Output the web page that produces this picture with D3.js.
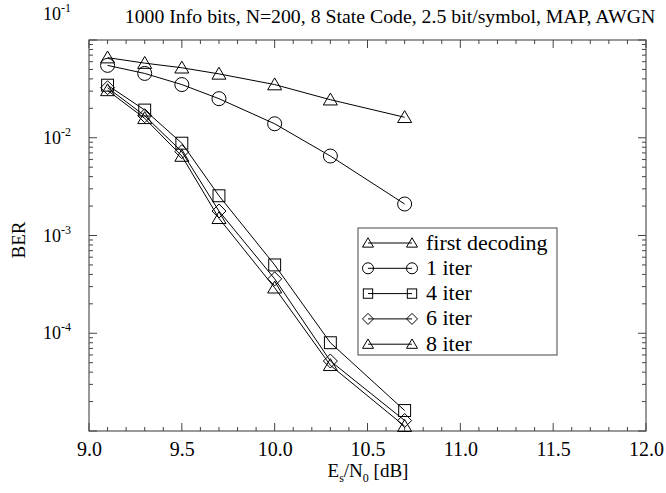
<!DOCTYPE html>
<html>
<head>
<meta charset="utf-8">
<script src="https://cdn.jsdelivr.net/npm/d3@7"></script>
<style>
	body { margin: 0; background: #fff; }
	svg text { font-family: "Liberation Serif", "DejaVu Serif", serif; fill: #000; }
</style>
</head>
<body>
<div class="ber-chart"></div>
<script>
var snr = [9.1, 9.3, 9.5, 9.7, 10.0, 10.3, 10.7];

var firstDecoding = [0.066, 0.058, 0.052, 0.045, 0.035, 0.0245, 0.0162];
var iter1 = [0.055, 0.0455, 0.035, 0.0251, 0.0139, 0.0065, 0.0021];
var iter4 = [0.0345, 0.0192, 0.0088, 0.00255, 0.0005, 0.00008, 0.0000162];
var iter6 = [0.0325, 0.0168, 0.0072, 0.00178, 0.00036, 0.000052, 0.0000128];
var iter8 = [0.0305, 0.0158, 0.0065, 0.0015, 0.000292, 0.000047, 0.0000112];

var seriesNames = ["first decoding", "1 iter", "4 iter", "6 iter", "8 iter"];
var seriesShapes = ["triangle", "circle", "square", "diamond", "triangle"];

var xTicks = [9.0, 9.5, 10.0, 10.5, 11.0, 11.5, 12.0];
var yTicks = [1e-1, 1e-2, 1e-3, 1e-4];

var title = "1000 Info bits, N=200, 8 State Code, 2.5 bit/symbol, MAP, AWGN";

function drawChart() {
	var sel = d3.select(".ber-chart").html("");
	var width = 666;
	var height = 493;

	var svg = sel.append("svg")
		.attr("width", width)
		.attr("height", height)

	var margin = {top: 40, right: 20, bottom: 62, left: 89};

	width -= margin.left + margin.right;
	height -= margin.top + margin.bottom;

	var x = d3.scaleLinear().domain([9, 12]).range([0, width]);
	var y = d3.scaleLog().domain([1e-5, 1e-1]).range([height, 0]);

	var g = svg.append("g").attr("transform", "translate(" + margin.left + "," + margin.top + ")");

	// frame
	g.append("rect")
		.attr("width", width)
		.attr("height", height)
		.style("fill", "none")
		.style("stroke", "#555")
		.style("stroke-width", 1.2)

	// x ticks, minor every 0.1, inward on top and bottom
	var xMinor = d3.range(90, 121).map(d => d / 10);
	[[height, -1], [0, 1]].forEach(function(side){
		g.append("g").selectAll("line").data(xMinor).enter().append("line")
			.attr("x1", d => x(d)).attr("x2", d => x(d))
			.attr("y1", side[0])
			.attr("y2", d => side[0] + side[1] * (Math.abs(d * 2 - Math.round(d * 2)) < 1e-6 ? 8 : 4))
			.style("stroke", "#444")
			.style("stroke-width", 1)
	})

	// y ticks, log minors, inward on left and right
	var yMinor = [];
	for (var e = -5; e < -1; e++) {
		for (var m = 1; m < 10; m++) yMinor.push(m * Math.pow(10, e));
	}
	yMinor.push(1e-1);
	[[0, 1], [width, -1]].forEach(function(side){
		g.append("g").selectAll("line").data(yMinor).enter().append("line")
			.attr("y1", d => y(d)).attr("y2", d => y(d))
			.attr("x1", side[0])
			.attr("x2", d => side[0] + side[1] * (Math.abs(Math.log10(d) - Math.round(Math.log10(d))) < 1e-6 ? 8 : 4))
			.style("stroke", "#444")
			.style("stroke-width", 1)
	})

	// x tick labels
	var xAxis = d3.axisBottom(x).tickValues(xTicks).tickSize(0).tickPadding(11).tickFormat(d3.format(".1f"));
	var xg = g.append("g").attr("transform", "translate(0," + height + ")").call(xAxis);
	xg.select(".domain").remove();
	xg.selectAll("text").style("font-size", "20px").style("font-family", "Liberation Serif");

	// y tick labels as 10^n
	var yLab = g.append("g").selectAll("text").data(yTicks).enter().append("text")
		.attr("x", -18)
		.attr("y", (d, i) => i == 0 ? y(d) - 20 : y(d) + 6)
		.attr("text-anchor", "end")
		.style("font-size", "18px")
	yLab.append("tspan").text("10");
	yLab.append("tspan")
		.attr("dy", -8)
		.style("font-size", "12px")
		.text(d => "-" + Math.round(-Math.log10(d)));

	// lines and markers
	var series = [firstDecoding, iter1, iter4, iter6, iter8];
	var line = d3.line()
		.x((d, i) => x(snr[i]))
		.y(d => y(d));

	function marker(sel, shape, r) {
		if (shape == "circle") {
			sel.append("circle").attr("r", r);
		} else if (shape == "square") {
			sel.append("rect").attr("x", -r * 0.85).attr("y", -r * 0.85).attr("width", r * 1.7).attr("height", r * 1.7);
		} else if (shape == "diamond") {
			sel.append("path").attr("d", "M0," + (-r) + "L" + r + ",0L0," + r + "L" + (-r) + ",0Z");
		} else {
			sel.append("path").attr("d", "M0," + (-r * 0.95) + "L" + (r) + "," + (r * 0.75) + "L" + (-r) + "," + (r * 0.75) + "Z");
		}
		sel.selectAll("circle,rect,path")
			.style("fill", "none")
			.style("stroke", "#000")
			.style("stroke-width", 1);
	}

	series.forEach(function(values, k){
		g.append("path")
			.datum(values)
			.attr("d", line)
			.style("fill", "none")
			.style("stroke", "#000")
			.style("stroke-width", 1)

		values.forEach(function(v, i){
			var m = g.append("g").attr("transform", "translate(" + x(snr[i]) + "," + y(v) + ")");
			marker(m, seriesShapes[k], 7);
		})
	})

	// legend
	var leg = svg.append("g").attr("transform", "translate(358,228)");
	leg.append("rect")
		.attr("width", 199)
		.attr("height", 127)
		.style("fill", "#fff")
		.style("stroke", "#444")
		.style("stroke-width", 1)

	seriesNames.forEach(function(name, k){
		var row = leg.append("g").attr("transform", "translate(0," + (15 + k * 25.3) + ")");
		row.append("line")
			.attr("x1", 10).attr("x2", 54)
			.style("stroke", "#000")
			.style("stroke-width", 1)
		marker(row.append("g").attr("transform", "translate(10,0)"), seriesShapes[k], 5.5);
		marker(row.append("g").attr("transform", "translate(54,0)"), seriesShapes[k], 5.5);
		row.append("text")
			.attr("x", 68)
			.attr("y", 6.5)
			.style("font-size", "22px")
			.text(name)
	})

	// title
	svg.append("text")
		.attr("x", 390)
		.attr("y", 23)
		.attr("text-anchor", "middle")
		.style("font-size", "19.8px")
		.text(title)

	// axis titles
	svg.append("text")
		.attr("transform", "translate(25,240) rotate(-90)")
		.attr("text-anchor", "middle")
		.style("font-size", "19px")
		.text("BER")

	var xl = svg.append("text")
		.attr("x", 368)
		.attr("y", 477)
		.attr("text-anchor", "middle")
		.style("font-size", "19px")
	xl.append("tspan").text("E");
	xl.append("tspan").attr("dy", 5).style("font-size", "12px").text("s");
	xl.append("tspan").attr("dy", -5).text("/N");
	xl.append("tspan").attr("dy", 5).style("font-size", "12px").text("0");
	xl.append("tspan").attr("dy", -5).text(" [dB]");
}

drawChart();
</script>
</body>
</html>
